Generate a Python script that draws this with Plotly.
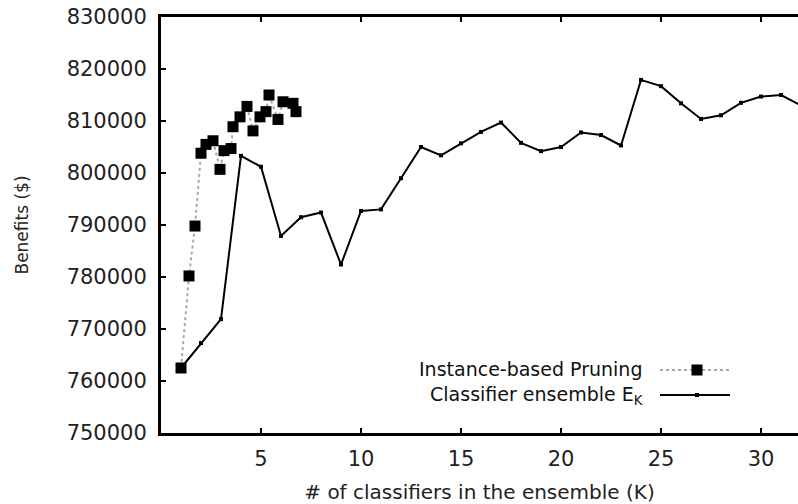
import plotly.graph_objects as go

# Classifier ensemble E_K: benefit for each ensemble size K
ek_k = list(range(1, 33))
ek_benefit = [762500, 767300, 771900, 803300, 801200, 787900, 791500, 792400,
              782400, 792700, 793000, 799000, 805000, 803400, 805700, 807900,
              809700, 805800, 804200, 805000, 807800, 807300, 805300, 817900,
              816700, 813400, 810400, 811100, 813500, 814700, 815000, 813000]

# Instance-based pruning: average number of classifiers consulted vs benefit
ip_k = [1.0, 1.4, 1.7, 2.0, 2.25, 2.6, 2.95, 3.15, 3.5, 3.6,
        3.95, 4.3, 4.6, 4.95, 5.25, 5.4, 5.85, 6.1, 6.6, 6.75]
ip_benefit = [762500, 780200, 789800, 803800, 805500, 806200, 800700, 804300,
              804700, 808900, 810800, 812800, 808100, 810800, 811800, 815000,
              810300, 813700, 813400, 811800]

x_ticks = [5, 10, 15, 20, 25, 30]
y_ticks = list(range(750000, 830001, 10000))

series_names = ["Instance-based Pruning", "Classifier ensemble E<sub>K</sub>"]

W, H = 798, 504
L, R, T, B = 161, 0, 17, 71
FONT = "DejaVu Sans"

fig = go.Figure()

fig.add_trace(go.Scatter(
    x=ek_k, y=ek_benefit, mode="lines+markers", name=series_names[1],
    line=dict(color="black", width=2),
    marker=dict(symbol="square", size=4, color="black"),
    showlegend=False,
))
fig.add_trace(go.Scatter(
    x=ip_k, y=ip_benefit, mode="lines+markers", name=series_names[0],
    line=dict(color="#a8a8a8", width=2, dash="dot"),
    marker=dict(symbol="square", size=11, color="black"),
    showlegend=False,
))

plot_w = W - L - R
plot_h = H - T - B


def px_x(p):
    return (p - L) / plot_w


def px_y(p):
    return (H - B - p) / plot_h


axis_common = dict(
    showline=True, linecolor="black", linewidth=3,
    ticks="inside", ticklen=5, tickwidth=2, tickcolor="black",
    showgrid=False, zeroline=False,
    tickfont=dict(family=FONT, size=21, color="#222"),
)

fig.update_layout(
    width=W, height=H,
    margin=dict(l=L, r=R, t=T, b=B, autoexpand=False),
    paper_bgcolor="white", plot_bgcolor="white",
    xaxis=dict(
        range=[0, plot_w / 20.0], tickvals=x_ticks, mirror="ticks",
        ticklabelstandoff=5,
        title=dict(text="# of classifiers in the ensemble (K)",
                   font=dict(family=FONT, size=20, color="#222"), standoff=15),
        **axis_common,
    ),
    yaxis=dict(
        range=[750000, 830000], tickvals=y_ticks, tickformat="d",
        ticklabelstandoff=7,
        title=dict(text="Benefits ($)",
                   font=dict(family=FONT, size=17, color="#222"), standoff=34),
        **axis_common,
    ),
    yaxis2=dict(
        overlaying="y", side="right", anchor="x",
        range=[750000, 830000], tickvals=y_ticks,
        showline=False, showgrid=False, zeroline=False,
        ticks="inside", ticklen=5, tickwidth=2, tickcolor="black",
        showticklabels=False,
    ),
)

# Key in the lower right corner: labels, then line samples with markers
key_text_right = 645
key_line = (660, 730)
key_mark = 697
key_rows = [370, 395]

shapes = []
annotations = [dict(
    xref="paper", yref="paper", x=px_x(key_text_right),
    y=px_y(sum(key_rows) / 2.0), xanchor="right", yanchor="middle",
    align="right", showarrow=False, text="<br>".join(series_names),
    font=dict(family=FONT, size=19, color="#111"),
)]

for i, row_y in enumerate(key_rows):
    if i == 0:
        shapes.append(dict(type="line", xref="paper", yref="paper",
                           x0=px_x(key_line[0]), x1=px_x(key_line[1]),
                           y0=px_y(row_y), y1=px_y(row_y),
                           line=dict(color="#a8a8a8", width=2, dash="dot")))
        shapes.append(dict(type="rect", xref="paper", yref="paper",
                           x0=px_x(key_mark - 5.5), x1=px_x(key_mark + 5.5),
                           y0=px_y(row_y + 5.5), y1=px_y(row_y - 5.5),
                           fillcolor="black", line=dict(width=0)))
    else:
        shapes.append(dict(type="line", xref="paper", yref="paper",
                           x0=px_x(key_line[0]), x1=px_x(key_line[1]),
                           y0=px_y(row_y), y1=px_y(row_y),
                           line=dict(color="black", width=2)))
        shapes.append(dict(type="rect", xref="paper", yref="paper",
                           x0=px_x(key_mark - 2), x1=px_x(key_mark + 2),
                           y0=px_y(row_y + 2), y1=px_y(row_y - 2),
                           fillcolor="black", line=dict(width=0)))

fig.update_layout(shapes=shapes, annotations=annotations)

fig.write_html("out.html")
